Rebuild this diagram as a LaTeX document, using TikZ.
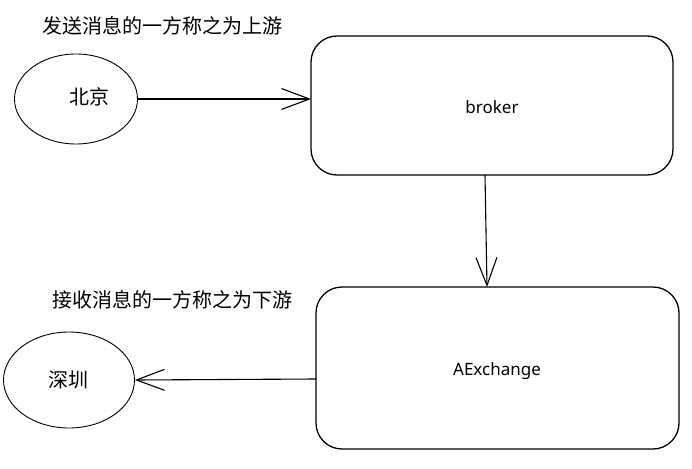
\documentclass[tikz,border=0pt]{standalone}
\usepackage{fontspec}
\setmainfont{Noto Sans}
\newfontfamily\cjk{Noto Sans CJK SC}
\usetikzlibrary{arrows.meta,shapes.geometric}
\begin{document}
\begin{tikzpicture}[x=1pt,y=-1pt,
  ellstyle/.style={draw, line width=0.9pt, ellipse, inner sep=0pt},
  cjktext/.style={font=\cjk\fontsize{20}{24}\selectfont},
  lbl/.style={font=\fontsize{17}{20}\selectfont},
  conn/.style={line width=1.1pt, -{Straight Barb[length=28pt,width=21pt,line width=1.1pt]}}
]
\useasboundingbox (0,0) rectangle (692,468);
\fill[white] (0,0) rectangle (692,468);

\node[ellstyle, minimum width=123pt, minimum height=90pt] (bj) at (76,99) {};
\node[cjktext] at (89,97) {北京};
\node[ellstyle, minimum width=131pt, minimum height=96pt] (sz) at (69,380) {};
\node[cjktext] at (68,380) {深圳};

\draw[line width=1.3pt, rounded corners=26pt] (311,36) rectangle (673,175);
\coordinate (brokerW) at (311,99);
\coordinate (brokerS) at (485,175);
\node[lbl] (broker) at (492,107) {broker};

\draw[line width=1.3pt, rounded corners=26pt] (316,287) rectangle (679,449);
\coordinate (exN) at (487,287);
\coordinate (exW) at (316,379);
\node[lbl] (ex) at (497,371) {AExchange};

\node[cjktext] (up) at (162,26) {发送消息的一方称之为上游};
\node[cjktext] (down) at (172,300) {接收消息的一方称之为下游};

\draw[conn] (bj.east) -- (brokerW);
\draw[conn] (brokerS) -- (exN);
\draw[conn] (exW) -- (sz.east);
\end{tikzpicture}
\end{document}
